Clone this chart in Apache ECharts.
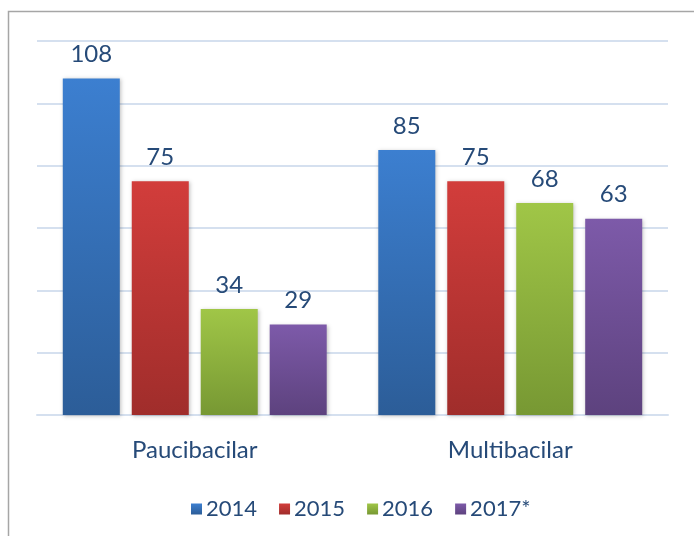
<!DOCTYPE html>
<html>
<head>
<meta charset="utf-8">
<script src="https://cdn.jsdelivr.net/npm/echarts@6/dist/echarts.min.js"></script>
<style>
  html, body { margin: 0; padding: 0; background: #fff; }
  #chart { width: 694px; height: 536px; }
</style>
</head>
<body>
<div id="chart"></div>
<script>
const categories = ['Paucibacilar', 'Multibacilar']
const years = ['2014', '2015', '2016', '2017*']
const values2014 = [108, 85]
const values2015 = [75, 75]
const values2016 = [34, 68]
const values2017 = [29, 63]

const colors = [
  ['#3c7fd0', '#2c5d98'],
  ['#d23d3b', '#a02d2b'],
  ['#a0c647', '#779833'],
  ['#7d5aa9', '#5d427e']
]
const textColor = '#264a78'
const font = 'Lato'

const chart = echarts.init(document.getElementById('chart'))

function makeSeries(name, data, i) {
  return {
    name: name,
    type: 'bar',
    data: data,
    barWidth: 57,
    barGap: '21%',
    itemStyle: {
      color: new echarts.graphic.LinearGradient(0, 0, 0, 1, [
        { offset: 0, color: colors[i][0] },
        { offset: 1, color: colors[i][1] }
      ]),
      shadowColor: 'rgba(0,0,0,0.25)',
      shadowBlur: 4,
      shadowOffsetX: 1,
      shadowOffsetY: 1
    },
    label: {
      show: true,
      position: 'top',
      distance: 12,
      color: textColor,
      fontFamily: font,
      fontSize: 24
    }
  }
}

chart.setOption({
  animation: false,
  color: colors.map(c => c[0]),
  graphic: [{
    type: 'rect',
    shape: { x: 8.5, y: 11.5, width: 720, height: 560 },
    style: { fill: 'none', stroke: '#a6a6a6', lineWidth: 1.5 },
    silent: true
  }],
  grid: { left: 37, right: 26, top: 41, bottom: 121 },
  legend: {
    data: years,
    top: 493,
    left: 186,
    itemWidth: 11,
    itemHeight: 11,
    itemGap: 22,
    icon: 'rect',
    textStyle: { color: textColor, fontFamily: font, fontSize: 22, padding: [0, 0, 0, -1] }
  },
  xAxis: {
    type: 'category',
    data: categories,
    axisLine: { show: true, lineStyle: { color: '#d5e0ef', width: 2 } },
    axisTick: { show: false },
    axisLabel: { color: textColor, fontFamily: font, fontSize: 24, margin: 23 }
  },
  yAxis: {
    type: 'value',
    min: 0,
    max: 120,
    interval: 20,
    axisLine: { show: false },
    axisTick: { show: false },
    axisLabel: { show: false },
    splitLine: { lineStyle: { color: '#d5e0ef', width: 2 } }
  },
  series: [
    makeSeries(years[0], values2014, 0),
    makeSeries(years[1], values2015, 1),
    makeSeries(years[2], values2016, 2),
    makeSeries(years[3], values2017, 3)
  ]
})
</script>
</body>
</html>
